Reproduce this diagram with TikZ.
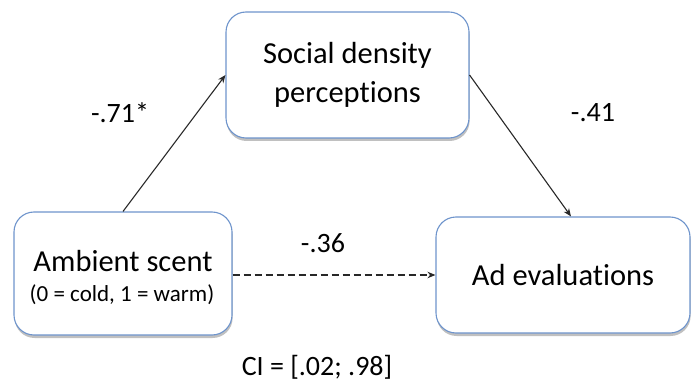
\documentclass[tikz,border=0pt]{standalone}
\usepackage{fontspec}
\setmainfont{Carlito}[Ligatures=NoCommon]
\usetikzlibrary{arrows.meta,shadows}
\definecolor{boxblue}{RGB}{110,148,204}
\definecolor{linegray}{RGB}{40,40,40}
\tikzset{
  varbox/.style={draw=boxblue, line width=1.1pt, fill=white, rounded corners=20pt,
    align=center, inner sep=0pt, text=black,
    drop shadow={shadow xshift=0.6pt, shadow yshift=-3pt, fill=black!45, opacity=0.55}},
  mainfont/.style={font=\fontsize{30.5}{39}\selectfont},
  txt/.style={inner sep=0pt, text=black},
  coef/.style={font=\fontsize{28}{32}\selectfont, text=black, inner sep=0pt},
  path/.style={draw=linegray, line width=1.1pt, -{Stealth[length=8pt,width=6.5pt]}},
}
\begin{document}
\begin{tikzpicture}[x=1pt,y=-1pt]
\useasboundingbox (0,0) rectangle (692,387);
\node[varbox, mainfont, minimum width=243pt, minimum height=126pt] (t) at (347.5,75)
  {Social density\\perceptions};
\node[varbox, minimum width=218pt, minimum height=123pt] (l) at (123,273.5) {};
\node[txt, font=\fontsize{30.5}{34}\selectfont] (l1) at (123,261) {Ambient scent};
\node[txt, font=\fontsize{23}{26}\selectfont] (l2) at (122,295) {(0 = cold, 1 = warm)};
\node[varbox, mainfont, minimum width=254pt, minimum height=116pt] (r) at (563,275)
  {Ad evaluations};
\coordinate (rtop) at ([xshift=8pt]r.north);
\draw[path] (l.north) -- (t.west);
\draw[path] (t.east) -- (rtop);
\draw[path, dash pattern=on 7pt off 4pt] (l.east |- r.west) -- (r.west);
\node[coef] (c1) at (120,113) {-.71*};
\node[coef] (c2) at (593,113) {-.41};
\node[coef] (c3) at (323,243) {-.36};
\node[coef] (ci) at (317,367) {CI = [.02; .98]};
\end{tikzpicture}
\end{document}
